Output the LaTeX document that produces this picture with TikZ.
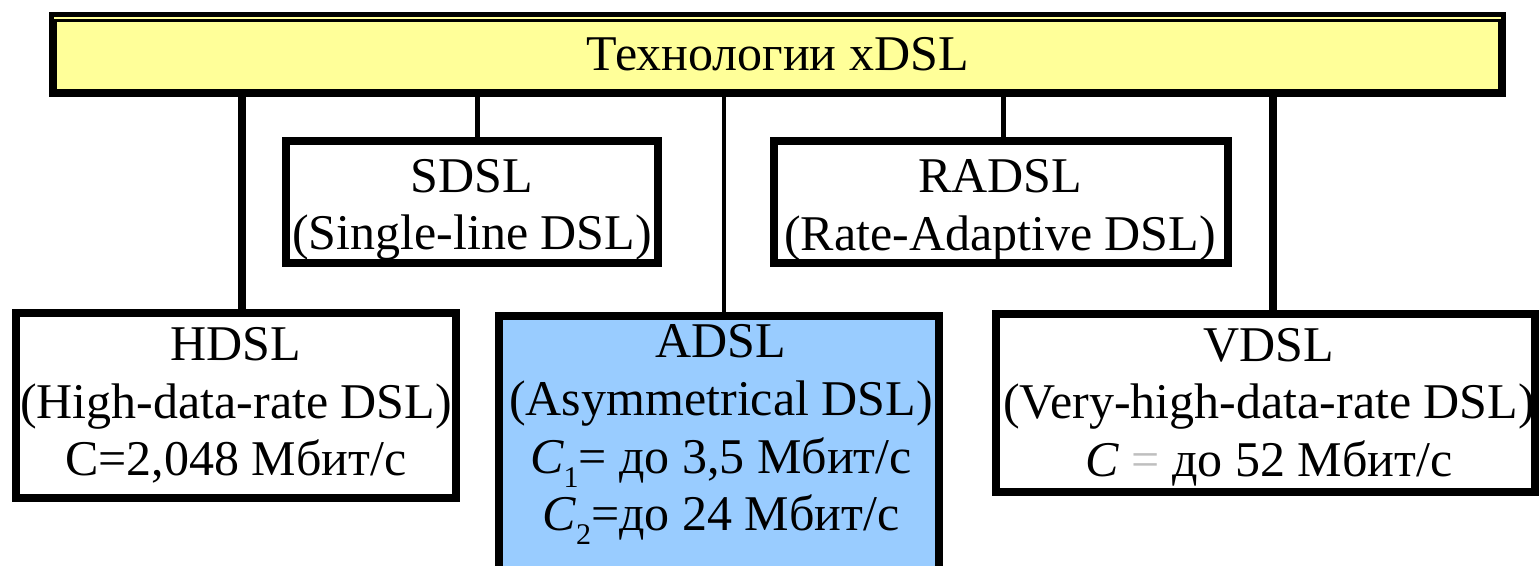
\documentclass[tikz,border=0pt]{standalone}
\usepackage{fontspec}
\setmainfont{Liberation Serif}
\definecolor{baryellow}{RGB}{255,255,153}
\definecolor{adslblue}{RGB}{153,204,255}
\newcommand\lnst{\rule[-0.25em]{0pt}{1em}}
\newcommand\csub[1]{{\itshape C}\raisebox{-0.28em}{\fontsize{15bp}{15bp}\selectfont #1}}
\begin{document}
\begin{tikzpicture}[x=0.5bp,y=-0.5bp,
  box/.style={draw=black,line width=4bp,fill=white,inner sep=0pt,rectangle},
  txt/.style={align=center,inner sep=0pt,font=\fontsize{25bp}{28.75bp}\selectfont},
  conn/.style={draw=black,line width=#1}]
\clip (0,0) rectangle (1539,566);
\fill[white] (0,0) rectangle (1539,566);

% top bar
\node[box,fill=baryellow,line width=2.5bp,minimum width=726bp,minimum height=40bp] (bar) at (777.5,54.5) {};
\draw[line width=1.5bp] ([shift={(3.5bp,-4.5bp)}]bar.north west) rectangle ([shift={(-3.5bp,3.25bp)}]bar.south east);
\node[txt] (bart) at ([yshift=-2bp]bar.center) {\lnst Технологии xDSL};

% boxes
\node[box,minimum width=186bp,minimum height=61bp] (sdsl) at (472,202) {};
\node[box,minimum width=227bp,minimum height=61bp] (radsl) at (1001,202) {};
\node[box,minimum width=220bp,minimum height=92.5bp] (hdsl) at (236,405.5) {};
\node[box,fill=adslblue,minimum width=220bp,minimum height=137bp] (adsl) at (719,453) {};
\node[box,minimum width=269.5bp,minimum height=89bp] (vdsl) at (1265.5,403) {};

% connectors
\coordinate (hc) at ([xshift=2.75bp]hdsl.north);
\coordinate (sc) at ([xshift=2.75bp]sdsl.north);
\coordinate (ac) at ([xshift=2.5bp]adsl.north);
\coordinate (rc) at ([xshift=1bp]radsl.north);
\coordinate (vc) at ([xshift=3.75bp]vdsl.north);
\draw[conn=4bp] (hc) -- (hc |- bar.south);
\draw[conn=2.5bp] (sc) -- (sc |- bar.south);
\draw[conn=2bp] (ac) -- (ac |- bar.south);
\draw[conn=2.5bp] (rc) -- (rc |- bar.south);
\draw[conn=4bp] (vc) -- (vc |- bar.south);

% texts
\node[txt] (sdslt) at ([yshift=-3.25bp]sdsl.center) {\lnst SDSL\\\lnst (Single-line DSL)};
\node[txt] (radslt) at ([shift={(-0.5bp,-3.5bp)}]radsl.center) {\lnst RADSL\\\lnst (Rate-Adaptive DSL)};
\node[txt] (hdslt) at (hdsl.center) {\lnst HDSL\\\lnst (High-data-rate DSL)\\\lnst C=2,048 Мбит/с};
\node[txt] (adslt) at ([shift={(1bp,10.25bp)}]adsl.center) {\lnst ADSL\\\lnst (Asymmetrical DSL)\\\lnst\csub{1}= до 3,5 Мбит/с\\\lnst\csub{2}=до 24 Мбит/с};
\node[txt] (vdslt) at ([shift={(1.75bp,-1.5bp)}]vdsl.center) {\lnst VDSL\\\lnst (Very-high-data-rate DSL)\\\lnst{\itshape C} {\color{gray!50}=} до 52 Мбит/с};
\end{tikzpicture}
\end{document}
